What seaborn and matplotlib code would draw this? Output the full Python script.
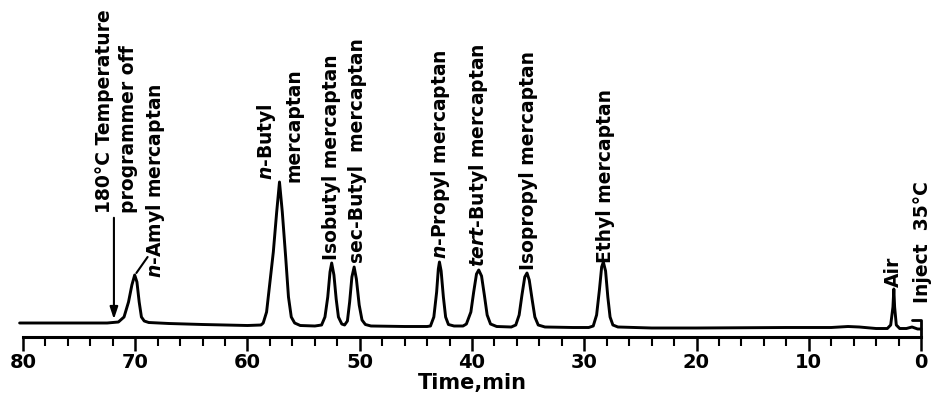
import matplotlib
matplotlib.use("Agg")
import matplotlib.pyplot as plt
import seaborn as sns
import numpy as np

# ---- data (time in min, detector signal in arbitrary units) ----
trace_time = [80.3, 74.0, 72.5, 71.5, 71.0, 70.6, 70.3, 70.05, 69.85, 69.65, 69.45, 69.2, 68.8,
              67.0, 64.0, 60.0, 58.8,
              58.6, 58.3, 58.0, 57.7, 57.4, 57.15, 56.9, 56.6, 56.35, 56.1, 55.8, 55.3, 54.0,
              53.4, 53.1, 52.85, 52.65, 52.5, 52.3, 52.1, 51.9, 51.6, 51.35,
              51.1, 50.9, 50.7, 50.5, 50.3, 50.05, 49.8, 49.5, 49.0, 46.0, 44.0,
              43.7, 43.4, 43.15, 43.0, 42.9, 42.75, 42.55, 42.35, 42.1, 41.6, 40.8,
              40.5, 40.1, 39.85, 39.6, 39.4, 39.15, 38.9, 38.65, 38.35, 37.8, 36.5,
              36.1, 35.8, 35.55, 35.3, 35.1, 34.9, 34.65, 34.4, 34.1, 33.5, 31.0, 29.6,
              29.2, 28.9, 28.65, 28.45, 28.3, 28.1, 27.9, 27.7, 27.45, 27.0, 24.0, 20.0,
              12.0, 8.0, 6.5, 5.5, 4.0, 3.0, 2.7, 2.5, 2.42, 2.35, 2.2, 1.9, 1.3, 0.8,
              0.3, 0.0]
trace_signal = [14, 14, 14, 15, 20, 35, 52, 62, 55, 35, 20, 16, 14.5,
                13.5, 12.5, 11.5, 12,
                14, 25, 55, 85, 125, 155, 125, 80, 40, 20, 14, 11.5, 11,
                12, 20, 40, 65, 74, 62, 38, 20, 13, 12,
                16, 35, 60, 70, 58, 32, 17, 12.5, 11, 10.5, 10.5,
                11, 20, 45, 68, 75, 66, 40, 20, 12.5, 11, 11,
                13, 25, 45, 63, 67, 61, 42, 22, 13, 10.5, 10,
                12, 22, 42, 60, 64, 57, 38, 20, 12, 10, 9.5, 9.5,
                11, 22, 47, 70, 75, 66, 40, 20, 12, 10, 9, 9,
                9.5, 9.5, 10.5, 10, 8.5, 8.5, 12, 30, 48, 30, 12, 8.5, 8.5, 10,
                8, 8]

inject_time = 0.0
inject_marker_height = 17
x_ticks_major = [80, 70, 60, 50, 40, 30, 20, 10, 0]
x_label = "Time,min"

sns.set_theme(style="white")
plt.rcParams["font.family"] = ["DejaVu Sans"]
plt.rcParams["mathtext.fontset"] = "custom"
plt.rcParams["mathtext.it"] = "DejaVu Sans:italic:bold"
plt.rcParams["mathtext.rm"] = "DejaVu Sans:bold"

fig = plt.figure(figsize=(9.33, 3.97), dpi=100)
ax = fig.add_axes([23 / 933, 60 / 397, 898 / 933, 337 / 397])

sns.lineplot(x=trace_time, y=trace_signal, sort=False, estimator=None,
             color="black", linewidth=2.1, ax=ax)
# injection marker
ax.plot([inject_time, inject_time, inject_time + 0.8],
        [0, inject_marker_height, inject_marker_height], color="black", lw=2.0)
for ln in ax.lines:
    ln.set_clip_on(False)

ax.set_xlim(80, 0)
ax.set_ylim(0, 337)
ax.set_xticks(x_ticks_major)
ax.set_xticks(np.arange(0, 81, 2), minor=True)
ax.set_xticklabels([str(v) for v in x_ticks_major], fontsize=14, fontweight="bold")
ax.set_yticks([])
for s in ["top", "left", "right"]:
    ax.spines[s].set_visible(False)
ax.spines["bottom"].set_linewidth(2.2)
ax.spines["bottom"].set_color("black")
ax.tick_params(axis="x", which="major", direction="out", length=10, width=1.8,
               color="black", bottom=True, pad=1.5, labelcolor="black")
ax.tick_params(axis="x", which="minor", direction="out", length=6.5, width=1.5,
               color="black", bottom=True)
ax.set_xlabel(x_label, fontsize=15, fontweight="bold", labelpad=1, color="black")

fs = 13.5
kw = dict(rotation=90, ha="center", va="bottom", fontsize=fs, fontweight="bold",
          color="black", clip_on=False)

# temperature programmer note + arrow
ax.text(72.7, 124, "180°C Temperature", **kw)
ax.text(70.6, 124, "programmer off", **kw)
ax.annotate("", xy=(71.9, 15), xytext=(71.9, 122),
            arrowprops=dict(arrowstyle="-|>,head_length=0.6,head_width=0.2",
                            color="black", lw=1.5))

# n-Amyl with leader line
ax.plot([69.9, 68.9], [64, 80], color="black", lw=1.5)
ax.text(68.2, 59, r"$\it{n}$-Amyl mercaptan", **kw)

ax.text(58.3, 157, r"$\it{n}$-Butyl", **kw)
ax.text(55.9, 155, "mercaptan", **kw)
ax.text(52.5, 77, "Isobutyl mercaptan", **kw)
ax.text(50.2, 74, "sec-Butyl  mercaptan", **kw)
ax.text(42.8, 78, r"$\it{n}$-Propyl mercaptan", **kw)
ax.text(39.4, 70, r"$\it{tert}$-Butyl mercaptan", **kw)
ax.text(35.0, 67, "Isopropyl mercaptan", **kw)
ax.text(28.1, 74, "Ethyl mercaptan", **kw)
ax.text(2.5, 50, "Air", **kw)
ax.text(-0.15, 34, "Inject  35°C", **kw)

fig.savefig("out.png", dpi=100, facecolor="white")
